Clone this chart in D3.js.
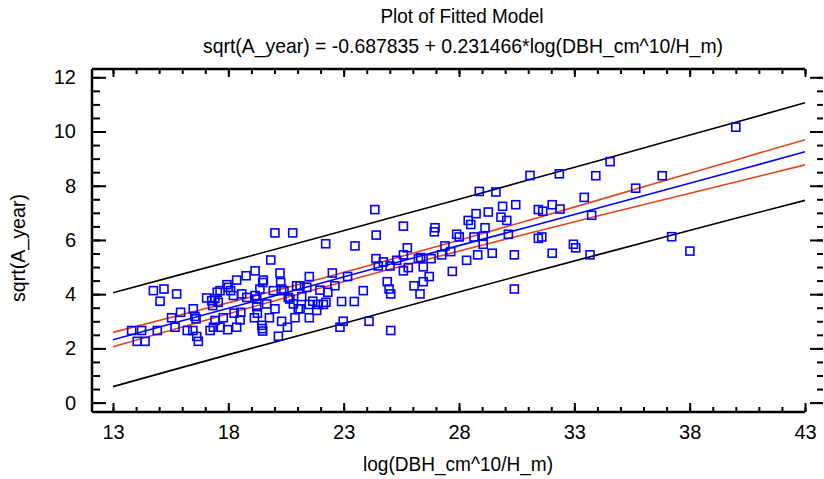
<!DOCTYPE html>
<html>
<head>
<meta charset="utf-8">
<script src="https://cdn.jsdelivr.net/npm/d3@7"></script>
<style>
  body { margin: 0; background: #fff; }
  svg { display: block; font-family: "Liberation Sans", Arial, sans-serif; }
</style>
</head>
<body>
<div id="chart"></div>
<script>
const xObs = [
  20.02,20.79,22.22,14.75,15.21,15.76,15.04,19.84,19.16,18.77,20.24,18.36,19.52,19.49,21.51,17.94,18.00,17.52,17.64,18.10,
  18.58,17.06,17.28,17.42,17.56,17.32,18.22,19.16,19.23,18.80,19.37,19.95,20.31,20.27,20.96,21.40,20.60,20.67,21.18,21.97,
  22.31,20.41,20.82,21.03,21.51,21.83,22.23,20.02,19.66,19.23,19.26,19.13,18.54,18.25,17.78,18.51,17.42,17.35,17.64,17.97,
  17.21,18.36,19.45,19.47,19.49,19.78,20.31,20.56,20.89,21.51,20.17,16.48,16.55,16.60,15.93,15.54,15.69,16.22,16.46,16.63,
  16.70,14.92,13.81,14.24,14.05,14.39,
  24.41,26.93,27.90,28.01,28.65,29.05,29.05,30.14,31.44,31.59,23.49,25.76,24.40,25.59,25.30,24.72,24.50,25.01,26.24,26.34,
  26.79,27.25,27.39,27.64,28.33,28.81,29.44,30.40,32.04,25.59,25.80,26.45,26.71,26.45,26.05,26.31,27.71,24.89,24.97,25.04,
  23.85,23.46,22.91,23.17,22.51,22.62,22.12,21.90,21.66,21.11,22.98,22.84,24.10,25.04,30.40,21.11,
  24.35,31.08,32.35,28.88,29.60,25.59,26.96,28.74,29.27,29.89,30.46,29.82,30.07,28.40,28.51,29.13,31.44,31.63,32.04,32.38,
  40.00,34.55,33.93,36.81,35.66,33.43,33.75,32.96,33.06,33.68,37.22,38.01
];
const yObs = [
  6.26,6.26,5.86,4.13,4.19,4.01,3.74,5.26,4.86,4.68,4.78,4.52,4.52,4.43,4.65,4.35,4.25,4.07,4.13,4.13,
  4.01,3.86,3.76,3.84,3.70,3.58,3.95,3.95,3.82,3.88,4.19,4.13,4.19,4.43,4.31,4.25,3.88,3.82,3.91,4.15,
  4.07,4.13,3.64,3.46,3.62,3.40,3.70,3.46,3.64,3.54,3.30,3.13,3.33,3.30,3.13,3.05,3.03,2.78,2.78,2.69,
  2.66,2.78,2.85,2.73,2.64,3.13,3.00,2.78,3.13,3.13,2.45,3.46,3.18,3.09,3.33,3.13,2.78,2.66,2.66,2.44,
  2.26,2.66,2.66,2.66,2.26,2.26,
  6.18,6.30,6.21,6.11,6.11,6.14,5.84,6.21,6.06,6.11,5.78,5.71,5.31,5.45,5.25,5.19,5.04,5.04,5.31,5.35,
  5.31,5.45,5.78,5.57,5.25,5.45,5.51,5.45,5.51,4.86,4.98,5.01,4.65,4.46,4.31,4.01,4.84,4.46,4.19,4.01,
  4.13,3.73,3.73,4.65,4.78,4.31,3.62,3.62,3.74,3.46,3.00,2.78,3.00,2.66,4.19,4.31,
  7.12,8.38,8.44,7.79,7.77,6.51,6.45,6.97,7.03,7.24,7.30,6.84,6.72,6.72,6.57,6.45,7.12,7.06,7.30,7.14,
  10.16,8.89,8.37,8.37,7.91,7.57,6.91,5.84,5.71,5.45,6.12,5.59
];

// fitted line and limits, read at these x positions
const xLine     = [13, 16, 19, 22, 25, 28, 31, 34, 37, 40, 43];
const fitY      = [2.32, 3.02, 3.71, 4.40, 5.10, 5.79, 6.48, 7.17, 7.86, 8.55, 9.25];
const confUpper = [2.59, 3.25, 3.90, 4.57, 5.27, 5.99, 6.72, 7.46, 8.21, 8.95, 9.70];
const confLower = [2.06, 2.79, 3.52, 4.23, 4.92, 5.59, 6.24, 6.88, 7.51, 8.14, 8.77];
const predUpper = [4.05, 4.74, 5.42, 6.11, 6.81, 7.50, 8.21, 8.91, 9.63, 10.34, 11.06];
const predLower = [0.59, 1.30, 2.00, 2.69, 3.39, 4.08, 4.77, 5.45, 6.13, 6.80, 7.46];

const xTicks = [13, 18, 23, 28, 33, 38, 43];
const yTicks = [0, 2, 4, 6, 8, 10, 12];

const title = "Plot of Fitted Model";
const subtitle = "sqrt(A_year) = -0.687835 + 0.231466*log(DBH_cm^10/H_m)";
const xLabel = "log(DBH_cm^10/H_m)";
const yLabel = "sqrt(A_year)";

const width = 824, height = 479;
const frame = {left: 92, right: 823, top: 69, bottom: 412};

const svg = d3.select("#chart").append("svg")
  .attr("width", width)
  .attr("height", height);

const x = d3.scaleLinear().domain([13, 43]).range([113, 805]);
const y = d3.scaleLinear().domain([0, 12]).range([402.6, 77.3]);

const minorX = d3.range(13, 44, 1);
const minorY = d3.range(0, 12.01, 0.5);

const labelStyle = g => g.selectAll("text")
  .attr("font-size", 20)
  .attr("fill", "#000");

const axisStyle = g => g.call(g => g.select(".domain").remove())
  .call(g => g.selectAll("line").attr("stroke", "#000").attr("stroke-width", 2));

svg.append("g")
  .attr("transform", `translate(0,${frame.bottom})`)
  .call(d3.axisBottom(x).tickValues(minorX).tickSize(-5).tickFormat(""))
  .call(axisStyle);
svg.append("g")
  .attr("transform", `translate(0,${frame.bottom})`)
  .call(d3.axisBottom(x).tickValues(xTicks).tickSize(-9).tickPadding(13).tickFormat(d3.format("d")))
  .call(axisStyle)
  .call(labelStyle);

svg.append("g")
  .attr("transform", `translate(0,${frame.top})`)
  .call(d3.axisTop(x).tickValues(minorX).tickSize(-5).tickFormat(""))
  .call(axisStyle);
svg.append("g")
  .attr("transform", `translate(0,${frame.top})`)
  .call(d3.axisTop(x).tickValues(xTicks).tickSize(-8).tickFormat(""))
  .call(axisStyle);

svg.append("g")
  .attr("transform", `translate(${frame.left},0)`)
  .call(d3.axisLeft(y).tickValues(minorY).tickSize(-8).tickFormat(""))
  .call(axisStyle);
svg.append("g")
  .attr("transform", `translate(${frame.left},0)`)
  .call(d3.axisLeft(y).tickValues(yTicks).tickSize(-14).tickPadding(16).tickFormat(d3.format("d")))
  .call(axisStyle)
  .call(labelStyle);

svg.append("g")
  .attr("transform", `translate(${frame.right},0)`)
  .call(d3.axisRight(y).tickValues(minorY).tickSize(-6).tickFormat(""))
  .call(axisStyle);
svg.append("g")
  .attr("transform", `translate(${frame.right},0)`)
  .call(d3.axisRight(y).tickValues(yTicks).tickSize(-13).tickFormat(""))
  .call(axisStyle);

// frame lines
svg.append("g")
  .attr("stroke", "#000")
  .attr("stroke-width", 2.5)
  .selectAll("line")
  .data([
    [frame.left, frame.top, x(43), frame.top],
    [frame.left, frame.bottom, x(43), frame.bottom],
    [frame.left, frame.top, frame.left, frame.bottom]
  ])
  .join("line")
    .attr("x1", d => d[0]).attr("y1", d => d[1])
    .attr("x2", d => d[2]).attr("y2", d => d[3]);

// lines
const line = vals => d3.line()
  .x((d, i) => x(xLine[i]))
  .y(d => y(d))(vals);

const series = [
  {vals: predUpper, color: "#000"},
  {vals: predLower, color: "#000"},
  {vals: confUpper, color: "#e8421a"},
  {vals: confLower, color: "#e8421a"},
  {vals: fitY, color: "#0000ff"}
];

svg.append("g")
  .attr("fill", "none")
  .attr("stroke-width", 1.6)
  .selectAll("path")
  .data(series)
  .join("path")
    .attr("stroke", d => d.color)
    .attr("d", d => line(d.vals));

// points
const sq = 8;
svg.append("g")
  .attr("fill", "none")
  .attr("stroke", "#0000ff")
  .attr("stroke-width", 1.6)
  .selectAll("rect")
  .data(xObs)
  .join("rect")
    .attr("x", (d, i) => x(d) - sq / 2)
    .attr("y", (d, i) => y(yObs[i]) - sq / 2)
    .attr("width", sq)
    .attr("height", sq);

// titles (the original font is narrow, so squeeze to its widths)
const addText = (txt, size, len, tf) => svg.append("text")
  .attr("transform", tf)
  .attr("text-anchor", "middle")
  .attr("font-size", size)
  .attr("lengthAdjust", "spacingAndGlyphs")
  .attr("textLength", len)
  .text(txt);

addText(title, 21, 163, "translate(462,23)");
addText(subtitle, 21, 520, "translate(463,53)");
addText(xLabel, 20, 190, "translate(458,471)");
addText(yLabel, 20, 108, "translate(25,248) rotate(-90)");
</script>
</body>
</html>
